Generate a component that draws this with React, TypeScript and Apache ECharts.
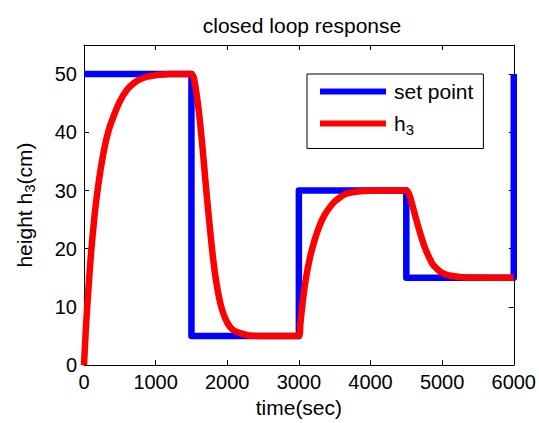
import React, { useEffect, useRef } from "react";
import * as echarts from "echarts";

// Set point schedule (step changes), drawn with step: 'end'
const setPointTime = [0, 1500, 3000, 4500, 6000];
const setPointHeight = [50, 5, 30, 15, 50];

// Measured tank level h3 (cm) over time (sec)
const h3Time = [
  0, 25, 50, 100, 150, 200, 265, 330, 405, 500, 600, 700, 800, 900, 1000, 1100, 1200, 1500,
  1530, 1560, 1600, 1650, 1700, 1750, 1800, 1850, 1900, 1950, 2000, 2050, 2100, 2200, 2300, 2500, 3000,
  3020, 3050, 3100, 3150, 3220, 3290, 3360, 3430, 3500, 3570, 3650, 3750, 3900, 4100, 4500,
  4530, 4560, 4600, 4650, 4700, 4750, 4800, 4870, 4950, 5010, 5100, 5250, 5400, 6000,
];
const h3Height = [
  0, 6, 11, 19.5, 26, 31, 36, 39.7, 42.5, 45.3, 47.3, 48.5, 49.2, 49.6, 49.8, 49.95, 50, 50,
  49.5, 47.5, 44, 38, 31, 24.5, 18.5, 14, 10.8, 8.7, 7.3, 6.4, 5.9, 5.4, 5.1, 5, 5,
  7, 10.5, 15, 18.2, 21.5, 24, 25.8, 27.1, 28.1, 28.8, 29.4, 29.7, 29.9, 30, 30,
  29.6, 28.6, 26.8, 24.5, 22.4, 20.5, 19, 17.3, 16.3, 15.8, 15.4, 15.15, 15.05, 15,
];

const xTicks = [0, 1000, 2000, 3000, 4000, 5000, 6000];
const yTicks = [0, 10, 20, 30, 40, 50];

const FONT = "'Liberation Sans', Arial, Helvetica, sans-serif";

export default function App() {
  const ref = useRef<HTMLDivElement>(null);

  useEffect(() => {
    if (!ref.current) return;
    const chart = echarts.init(ref.current, null, { renderer: "svg" });

    const frameAxis = {
      axisLine: { show: true, onZero: false, lineStyle: { color: "#000", width: 1 } },
      axisTick: { show: true, inside: true, length: 5, lineStyle: { color: "#000", width: 1 } },
      splitLine: { show: false },
    };

    chart.setOption({
      animation: false,
      backgroundColor: "#fff",
      textStyle: { fontFamily: FONT },
      title: {
        text: "closed loop response",
        left: 297,
        top: 10,
        textAlign: "center",
        textStyle: { fontSize: 21, fontWeight: "normal", color: "#000", fontFamily: FONT },
      },
      grid: { left: 84, right: 25, top: 45, bottom: 57 },
      legend: {
        orient: "vertical",
        left: 307,
        top: 74,
        padding: [7, 10, 12, 13],
        itemGap: 11,
        itemWidth: 66,
        itemHeight: 6,
        icon: "rect",
        borderColor: "#000",
        borderWidth: 1,
        backgroundColor: "#fff",
        data: ["set point", "h3"],
        formatter: (name: string) => (name === "h3" ? "{m|h}{s|3}" : "{m|" + name + "}"),
        textStyle: {
          color: "#000",
          fontSize: 21,
          fontFamily: FONT,
          rich: {
            m: { fontSize: 21, color: "#000", fontFamily: FONT, padding: [0, 0, 0, 3] },
            s: { fontSize: 15, color: "#000", fontFamily: FONT, padding: [11, 0, 0, 0] },
          },
        },
      },
      xAxis: [
        {
          type: "value",
          min: xTicks[0],
          max: xTicks[xTicks.length - 1],
          interval: 1000,
          position: "bottom",
          ...frameAxis,
          axisLabel: {
            color: "#000",
            fontSize: 20,
            fontFamily: FONT,
            margin: 7,
            formatter: (v: number) => String(v),
          },
          name: "time(sec)",
          nameLocation: "middle",
          nameGap: 29,
          nameTextStyle: { color: "#000", fontSize: 21, fontFamily: FONT },
        },
        {
          type: "value",
          min: xTicks[0],
          max: xTicks[xTicks.length - 1],
          interval: 1000,
          position: "top",
          ...frameAxis,
          axisLabel: { show: false },
        },
      ],
      yAxis: [
        {
          type: "value",
          min: yTicks[0],
          max: 55,
          interval: 10,
          position: "left",
          ...frameAxis,
          axisLabel: {
            color: "#000",
            fontSize: 20,
            fontFamily: FONT,
            margin: 7,
            showMaxLabel: false,
            formatter: (v: number) => String(v),
          },
          name: "{a|height h}{s|3}{a|(cm)}",
          nameLocation: "middle",
          nameGap: 47,
          nameTextStyle: {
            color: "#000",
            fontFamily: FONT,
            rich: {
              a: { fontSize: 21, color: "#000", fontFamily: FONT },
              s: { fontSize: 15, color: "#000", fontFamily: FONT, padding: [11, 0, 0, 0] },
            },
          },
        },
        {
          type: "value",
          min: yTicks[0],
          max: 55,
          interval: 10,
          position: "right",
          ...frameAxis,
          axisLabel: { show: false },
        },
      ],
      series: [
        {
          name: "set point",
          type: "line",
          step: "end",
          clip: false,
          showSymbol: false,
          symbol: "none",
          color: "#0000ff",
          lineStyle: { color: "#0000ff", width: 6.5, join: "round" },
          data: setPointTime.map((t, i) => [t, setPointHeight[i]]),
        },
        {
          name: "h3",
          type: "line",
          clip: false,
          showSymbol: false,
          symbol: "none",
          smooth: 0.2,
          color: "#ff0000",
          lineStyle: { color: "#ff0000", width: 6.5, join: "round" },
          data: h3Time.map((t, i) => [t, h3Height[i]]),
        },
      ],
    });

    return () => chart.dispose();
  }, []);

  return (
    <div
      ref={ref}
      style={{ position: "absolute", left: 0, top: 0, width: 539, height: 423 }}
    />
  );
}
